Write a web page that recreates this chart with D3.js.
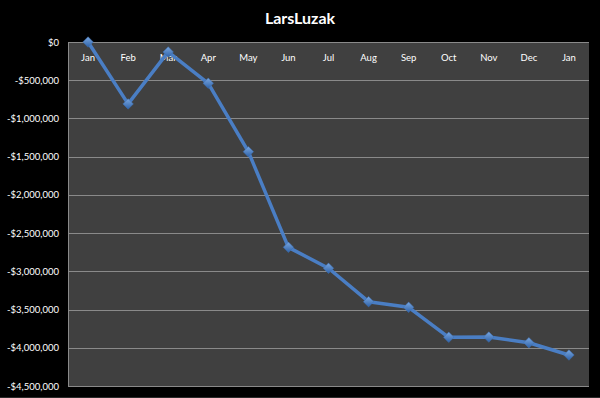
<!DOCTYPE html>
<html>
<head>
<meta charset="utf-8">
<script src="https://cdn.jsdelivr.net/npm/d3@7"></script>
<style>
  body { margin: 0; background: #000; }
  svg { display: block; font-family: Lato, "Open Sans", sans-serif; }
</style>
</head>
<body>
<script>
// months along the top of the plot
const months = ["Jan", "Feb", "Mar", "Apr", "May", "Jun", "Jul", "Aug", "Sep", "Oct", "Nov", "Dec", "Jan"];
// running balance
const balance = [0, -810000, -130000, -540000, -1435000, -2686000, -2960000,
                 -3397000, -3471000, -3863000, -3860000, -3934000, -4095000];
const yTicks = [0, -500000, -1000000, -1500000, -2000000, -2500000, -3000000, -3500000, -4000000, -4500000];

const width = 600, height = 398;
const margin = {top: 42, right: 11, bottom: 12, left: 68};

const svg = d3.select("body").append("svg")
    .attr("width", width)
    .attr("height", height);

svg.append("rect").attr("width", width).attr("height", height).attr("fill", "#000");

const x = d3.scaleBand()
    .domain(d3.range(months.length))
    .range([margin.left, width - margin.right]);

const y = d3.scaleLinear()
    .domain([0, -4500000])
    .range([margin.top, height - margin.bottom]);

// plot area
svg.append("rect")
    .attr("x", margin.left)
    .attr("y", margin.top)
    .attr("width", width - margin.right - margin.left)
    .attr("height", y(-4500000) - margin.top)
    .attr("fill", "#404040");

// gridlines
svg.append("g")
    .selectAll("line")
    .data(yTicks)
    .join("line")
    .attr("x1", margin.left)
    .attr("x2", width - margin.right)
    .attr("y1", d => Math.round(y(d)) + 0.5)
    .attr("y2", d => Math.round(y(d)) + 0.5)
    .attr("stroke", "#8a8a8a")
    .attr("stroke-width", 1);

// left axis line
svg.append("line")
    .attr("x1", margin.left + 0.5).attr("x2", margin.left + 0.5)
    .attr("y1", margin.top).attr("y2", y(-4500000))
    .attr("stroke", "#8a8a8a");

// faint strip at the very bottom
svg.append("line")
    .attr("x1", 0).attr("x2", width)
    .attr("y1", height - 0.5).attr("y2", height - 0.5)
    .attr("stroke", "#2a2a2a");

const fmt = d => (d < 0 ? "-$" : "$") + d3.format(",")(Math.abs(d));

const yAxis = svg.append("g")
    .attr("transform", `translate(${margin.left - 9},0)`)
    .call(d3.axisLeft(y).tickValues(yTicks).tickFormat(fmt).tickSize(0).tickPadding(0));
yAxis.select(".domain").remove();
yAxis.selectAll("text")
    .attr("fill", "#fff")
    .attr("font-size", 9.5)
    .attr("font-family", "Lato, 'Open Sans', sans-serif");

// month labels inside the plot, just under the top
svg.append("g")
    .selectAll("text")
    .data(months)
    .join("text")
    .attr("x", (d, i) => x(i) + x.bandwidth() / 2)
    .attr("y", 61)
    .attr("text-anchor", "middle")
    .attr("fill", "#fff")
    .attr("font-size", 9.5)
    .text(d => d);

// gradient for the markers
const defs = svg.append("defs");
const grad = defs.append("linearGradient")
    .attr("id", "mk").attr("x1", 0).attr("y1", 0).attr("x2", 0).attr("y2", 1);
grad.append("stop").attr("offset", "0%").attr("stop-color", "#7aa7e0");
grad.append("stop").attr("offset", "100%").attr("stop-color", "#2e62a8");

const line = d3.line()
    .x((d, i) => x(i) + x.bandwidth() / 2)
    .y(d => y(d));

svg.append("path")
    .datum(balance)
    .attr("d", line)
    .attr("fill", "none")
    .attr("stroke", "#4a7ec4")
    .attr("stroke-width", 3.5)
    .attr("stroke-linejoin", "round");

svg.append("g")
    .selectAll("path")
    .data(balance)
    .join("path")
    .attr("transform", (d, i) => `translate(${x(i) + x.bandwidth() / 2},${y(d)})`)
    .attr("d", d3.symbol(d3.symbolDiamond2, 70))
    .attr("fill", "url(#mk)")
    .attr("stroke", "#3b6fb5")
    .attr("stroke-width", 0.5);

// title
svg.append("text")
    .attr("x", width / 2)
    .attr("y", 24)
    .attr("text-anchor", "middle")
    .attr("fill", "#fff")
    .attr("font-size", 16)
    .attr("font-weight", "bold")
    .text("LarsLuzak");
</script>
</body>
</html>
